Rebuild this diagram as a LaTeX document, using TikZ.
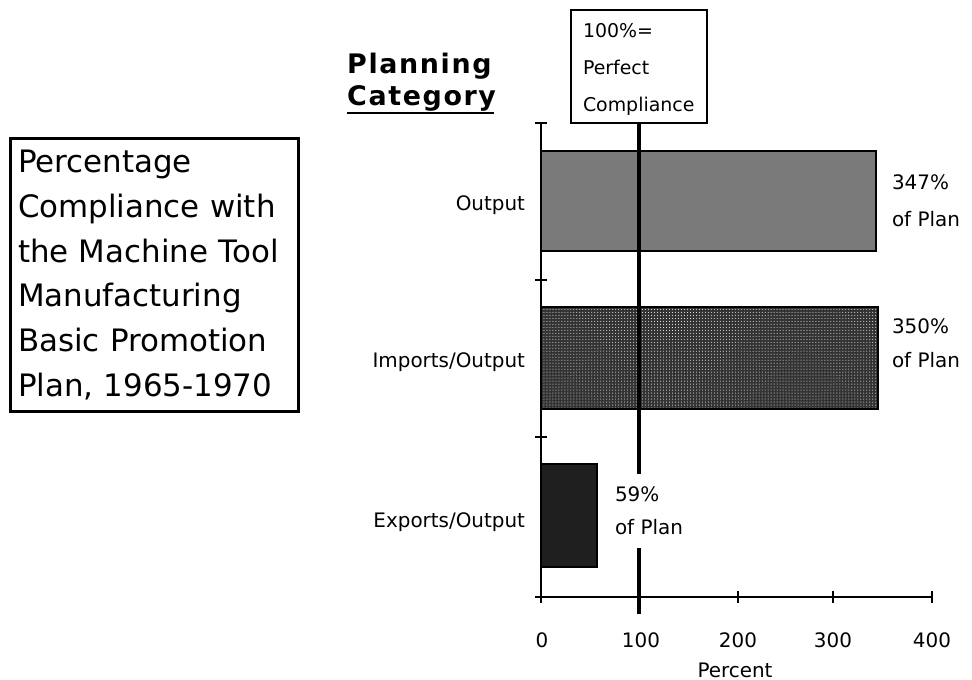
\documentclass[tikz,border=0pt]{standalone}
\usepackage{fontspec}
\setmainfont{DejaVu Sans}
\newfontfamily\headfont[LetterSpace=6]{DejaVu Sans}
\usetikzlibrary{patterns}
\begin{document}
\begin{tikzpicture}[x=1bp,y=-1bp,
  lbl/.style={font=\fontsize{20}{24}\selectfont, inner sep=0, outer sep=0},
  pct/.style={align=left, inner sep=0, outer sep=0, anchor=west},
  axisline/.style={line width=2bp},
  barframe/.style={line width=2bp, draw=black},
  perfect/.style={line width=4bp},
  head/.style={anchor=base west, inner sep=0, font=\headfont\bfseries\fontsize{27}{30}\selectfont},
  ]
\useasboundingbox (0,0) rectangle (972,680);

% title box
\node[draw, line width=3bp, outer sep=0, anchor=north west,
      minimum width=288bp, minimum height=272bp, text width=272bp,
      inner xsep=8bp, align=left, font=\fontsize{31}{45}\selectfont]
  (title) at (10,139)
  {Percentage\\Compliance with\\the Machine Tool\\Manufacturing\\Basic Promotion\\Plan, 1965-1970};

% heading
\node[head] (plan) at (347,74) {Planning};
\node[head] (cat) at (347,106) {Category};
\draw[line width=2bp] ([yshift=-7bp]cat.base west) -- ([yshift=-7bp,xshift=-2bp]cat.base east);

% 100% box
\node[draw, line width=2bp, outer sep=0, anchor=north west,
      minimum width=136bp, minimum height=113bp, text width=112bp,
      inner xsep=12bp, align=left, font=\fontsize{19}{37.5}\selectfont]
  (pbox) at (571,10) {\rule{0pt}{20bp}100\%=\\Perfect\\Compliance};

% bars
\draw[barframe, fill=black!52] (541,151) rectangle (876,251);
\draw[barframe, preaction={fill=black!80}, pattern=dots, pattern color=white]
  (541,307) rectangle (878,409);
\draw[barframe, fill=black!88] (541,464) rectangle (597,567);

% axes
\coordinate (O) at (541,597);
\draw[axisline] (541,123) -- (541,603);
\draw[axisline] (535,597) -- (933,597);
\foreach \y in {123,280,437} \draw[axisline] (535,\y) -- (547,\y);
\foreach \x in {738,833,932} \draw[axisline] (\x,591) -- (\x,603);

% 100% line
\coordinate (pend) at (639,614);
\draw[perfect] (pbox.south) -- (pbox.south |- pend);

% category labels
\node[lbl, anchor=base east] (lout) at (525,210) {Output};
\node[lbl, anchor=base east] (limp) at (525,367) {Imports/Output};
\node[lbl, anchor=base east] (lexp) at (525,527) {Exports/Output};

% value labels
\node[pct, font=\fontsize{20}{37}\selectfont] (v1) at (892,201) {347\%\\of Plan};
\node[pct, font=\fontsize{20}{34}\selectfont] (v2) at (892,343) {350\%\\of Plan};
\node[pct, font=\fontsize{20}{33}\selectfont, fill=white, inner xsep=3bp, inner ysep=13bp]
  (v3) at (612,511) {59\%\\of Plan};

% tick labels
\node[lbl, anchor=base] (t0) at (542,647) {0};
\node[lbl, anchor=base] (t1) at (641,647) {100};
\node[lbl, anchor=base] (t2) at (738,647) {200};
\node[lbl, anchor=base] (t3) at (833,647) {300};
\node[lbl, anchor=base] (t4) at (932,647) {400};
\node[lbl, anchor=base] (xlab) at (735,677) {Percent};
\end{tikzpicture}
\end{document}
